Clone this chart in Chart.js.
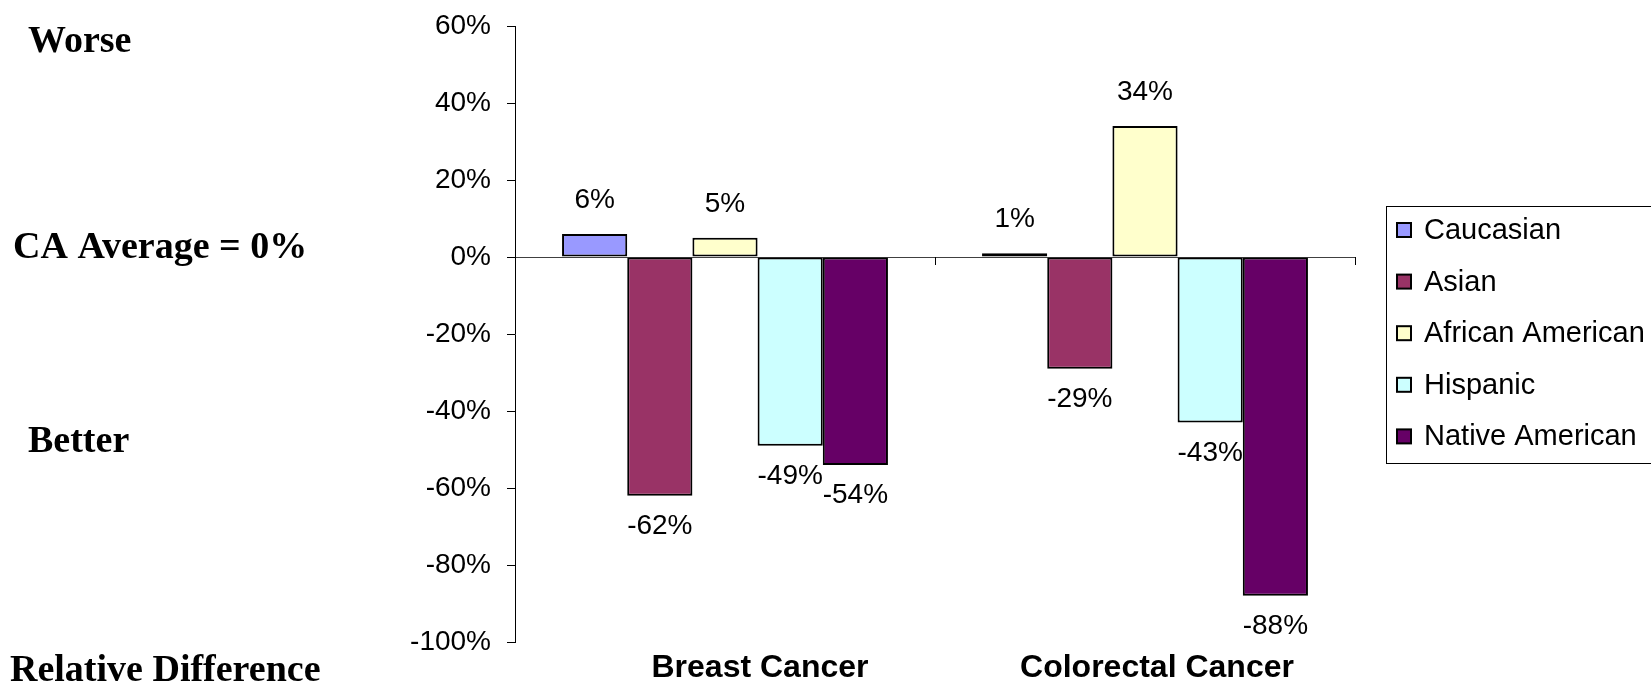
<!DOCTYPE html>
<html>
<head>
<meta charset="utf-8">
<script src="https://cdn.jsdelivr.net/npm/chart.js@4/dist/chart.umd.min.js"></script>
<style>
  html, body { margin: 0; padding: 0; background: #fff; }
  #wrap { width: 1651px; height: 682px; position: relative; }
</style>
</head>
<body>
<div id="wrap"><canvas id="chart" width="1651" height="682"></canvas></div>
<script>
// Relative difference vs. California average, by cancer site and group (percent)
const categories = ['Breast Cancer', 'Colorectal Cancer'];
const groups = ['Caucasian', 'Asian', 'African American', 'Hispanic', 'Native American'];
const caucasian = [6, 1];
const asian = [-62, -29];
const africanAmerican = [5, 34];
const hispanic = [-49, -43];
const nativeAmerican = [-54, -88];
const yTicks = [60, 40, 20, 0, -20, -40, -60, -80, -100];
const sideNotes = ['Worse', 'CA Average = 0%', 'Better', 'Relative Difference'];

const colors = ['#9999FF', '#993366', '#FFFFCC', '#CCFFFF', '#660066'];
const seriesValues = [caucasian, asian, africanAmerican, hispanic, nativeAmerican];

const SANS = '"Liberation Sans", Arial, sans-serif';
const SERIF = '"Liberation Serif", "Times New Roman", serif';

// Value labels above / below each bar
const valueLabels = {
  id: 'valueLabels',
  afterDatasetsDraw(chart) {
    const ctx = chart.ctx;
    ctx.save();
    ctx.font = '28px ' + SANS;
    ctx.fillStyle = '#000';
    ctx.textAlign = 'center';
    ctx.textBaseline = 'alphabetic';
    chart.data.datasets.forEach((ds, di) => {
      const meta = chart.getDatasetMeta(di);
      meta.data.forEach((bar, i) => {
        const v = ds.data[i];
        const y = v >= 0 ? bar.y - 26 : bar.y + 38;
        ctx.fillText(v + '%', bar.x, y);
      });
    });
    ctx.restore();
  }
};

// Zero line tick marks, category names, side notes and boxed legend
const decorations = {
  id: 'decorations',
  afterDraw(chart) {
    const ctx = chart.ctx;
    const xs = chart.scales.x;
    const ys = chart.scales.y;
    const area = chart.chartArea;
    const y0 = ys.getPixelForValue(0);
    ctx.save();

    // tick marks on the zero line at category boundaries
    ctx.strokeStyle = '#000';
    ctx.lineWidth = 1;
    const marks = [];
    for (let i = 0; i < categories.length - 1; i++) {
      marks.push((xs.getPixelForValue(i) + xs.getPixelForValue(i + 1)) / 2);
    }
    marks.push(area.right);
    marks.forEach(mx => {
      const px = Math.round(mx) + 0.5;
      ctx.beginPath();
      ctx.moveTo(px, y0);
      ctx.lineTo(px, y0 + 8);
      ctx.stroke();
    });

    // category names along the bottom
    const catShift = [35, 12];
    ctx.font = 'bold 32px ' + SANS;
    ctx.fillStyle = '#000';
    ctx.textAlign = 'center';
    ctx.textBaseline = 'alphabetic';
    categories.forEach((c, i) => {
      ctx.fillText(c, xs.getPixelForValue(i) + catShift[i], 677);
    });

    // side notes on the left
    ctx.font = 'bold 38px ' + SERIF;
    ctx.textAlign = 'left';
    const notePos = [[28, 52], [13, 258], [28, 452], [10, 681]];
    sideNotes.forEach((t, i) => ctx.fillText(t, notePos[i][0], notePos[i][1]));

    // legend box
    const lx = 1386, ly = 206, lw = 300, lh = 257;
    ctx.strokeStyle = '#000';
    ctx.lineWidth = 1;
    ctx.strokeRect(lx + 0.5, ly + 0.5, lw, lh);
    ctx.font = '29px ' + SANS;
    ctx.textBaseline = 'middle';
    chart.data.datasets.forEach((ds, i) => {
      const cy = 230 + i * 51.6;
      ctx.fillStyle = ds.backgroundColor;
      ctx.fillRect(1397, cy - 7, 14, 14);
      ctx.lineWidth = 2;
      ctx.strokeRect(1397, cy - 7, 14, 14);
      ctx.fillStyle = '#000';
      ctx.fillText(ds.label, 1424, cy + 1);
    });
    ctx.restore();
  }
};

new Chart(document.getElementById('chart'), {
  type: 'bar',
  data: {
    labels: categories,
    datasets: groups.map((g, i) => ({
      label: g,
      data: seriesValues[i],
      backgroundColor: colors[i],
      borderColor: '#000',
      borderWidth: 2,
      borderSkipped: false,
      categoryPercentage: 0.776,
      barPercentage: 1.0
    }))
  },
  options: {
    responsive: false,
    animation: false,
    layout: { padding: { left: 405, right: 296, top: 26, bottom: 40 } },
    plugins: { legend: { display: false }, tooltip: { enabled: false } },
    scales: {
      x: { display: false },
      y: {
        min: -100,
        max: 60,
        afterBuildTicks(scale) { scale.ticks = yTicks.map(v => ({ value: v })); },
        afterFit(scale) {
          scale.width = 110;
          scale.paddingTop = 0;
          scale.paddingBottom = 0;
        },
        ticks: {
          font: { family: SANS, size: 28 },
          color: '#000',
          padding: 16,
          callback: v => v + '%'
        },
        grid: {
          color: c => (c.tick && c.tick.value === 0) ? '#404040' : 'rgba(0,0,0,0)',
          tickColor: '#000',
          tickLength: 8,
          lineWidth: 1
        },
        border: { display: true, color: '#000', width: 1 }
      }
    }
  },
  plugins: [valueLabels, decorations]
});
</script>
</body>
</html>
